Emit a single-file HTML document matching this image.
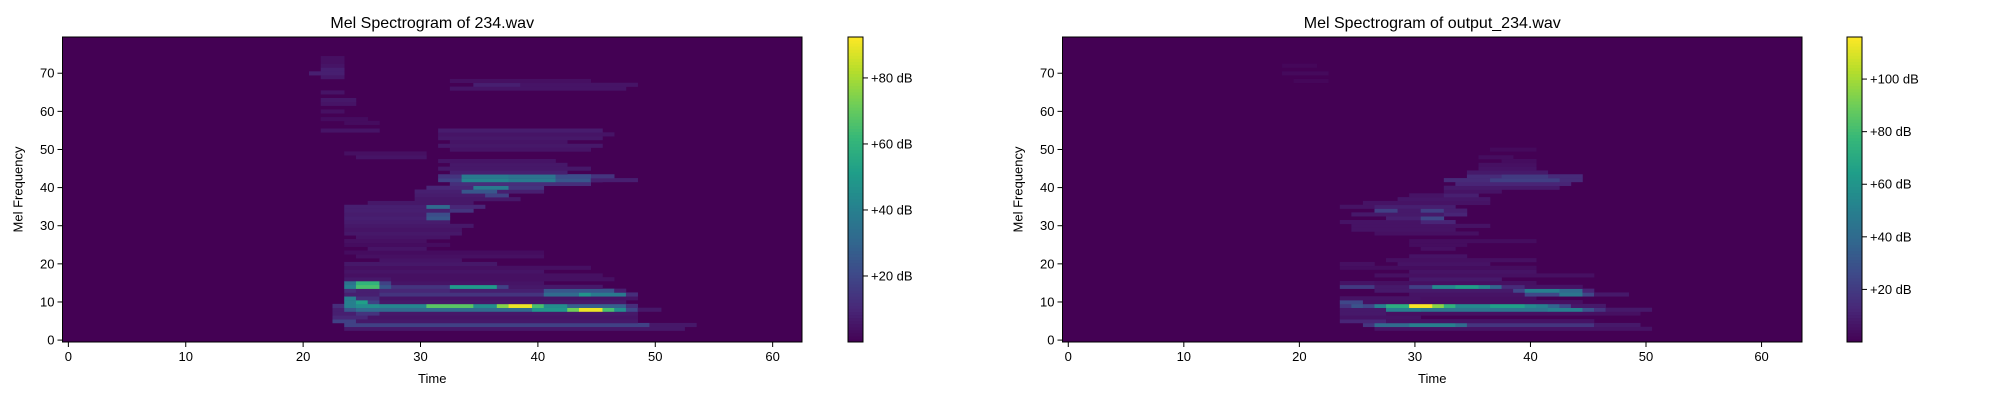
<!DOCTYPE html>
<html><head><meta charset="utf-8"><style>
html,body{margin:0;padding:0;background:#fff;}
svg{display:block;font-family:"Liberation Sans","DejaVu Sans",sans-serif;}
</style></head><body>
<svg id="fig" width="2000" height="400" viewBox="0 0 2000 400" xmlns="http://www.w3.org/2000/svg">
<rect width="2000" height="400" fill="#fff"/>
</svg>
<script>
// ---- data: segments [melBin, startFrame, endFrame, dB] ----
const leftSegs = [
[3,24,52,6],[4,24,49,18],[4,50,53,6],[5,23,24,18],[5,25,48,6],
[6,23,25,10],[6,26,48,5],[7,23,24,8],[7,25,26,14],[7,27,48,6],
[8,23,23,8],[8,24,24,25],[8,25,39,32],[8,40,42,48],[8,43,43,72],[8,44,45,90],[8,46,46,65],[8,47,47,45],[8,48,48,20],[8,49,50,6],
[9,23,23,12],[9,24,24,40],[9,25,26,45],[9,27,30,42],[9,31,34,68],[9,35,36,45],[9,37,37,75],[9,38,39,90],[9,40,40,65],[9,41,42,45],[9,43,47,28],[9,48,48,12],
[10,24,24,40],[10,25,25,52],[10,26,26,18],[10,27,47,6],
[11,24,24,40],[11,25,26,12],[11,27,48,5],
[12,24,26,8],[12,27,40,14],[12,41,43,32],[12,44,44,48],[12,45,47,38],[12,48,48,12],
[13,24,24,12],[13,25,26,8],[13,27,32,10],[13,33,40,8],[13,41,46,25],[13,47,47,8],
[14,24,24,40],[14,25,26,65],[14,27,27,25],[14,28,32,14],[14,33,36,50],[14,37,37,18],[14,38,45,6],
[15,24,24,35],[15,25,26,60],[15,27,27,18],[15,28,40,5],
[16,24,27,6],[16,28,46,4],[17,24,45,4],[18,24,40,5],[19,24,44,4],[20,24,36,6],[21,27,33,5],[22,25,40,4],
[23,24,40,3],[24,26,30,5],[25,24,32,3],[26,24,30,4],[27,25,32,5],[28,24,33,6],[29,24,33,5],[30,24,34,6],
[31,24,32,7],[32,24,30,8],[32,31,32,25],[33,24,30,7],[33,31,32,22],[34,24,32,8],[34,33,34,14],[35,24,30,8],[35,31,32,32],[35,33,35,10],[36,26,34,6],
[37,30,38,6],[38,30,35,7],[38,36,37,18],[39,30,40,8],[39,34,36,25],[40,31,36,10],[40,35,37,38],[40,38,40,14],
[41,33,44,12],[42,32,45,18],[42,34,37,42],[42,38,41,38],[42,42,44,25],[42,45,48,8],
[43,32,46,14],[43,34,37,38],[43,38,41,35],[43,42,44,22],[44,33,42,8],[45,32,44,6],[46,33,42,6],[47,32,41,5],
[48,25,30,5],[49,24,30,4],[50,33,44,5],[51,32,45,6],[52,33,42,5],[53,32,45,6],[54,32,46,5],[55,22,26,5],[55,32,45,7],
[57,24,26,3],[58,22,25,3],[60,22,23,4],[62,22,24,5],[63,22,24,6],[65,22,23,5],
[66,33,47,5],[67,35,38,8],[67,39,48,5],[68,33,44,4],
[69,22,23,6],[70,21,23,8],[71,22,23,8],[72,22,23,5],[73,22,23,4],[74,22,23,4]
];
const rightSegs = [
[3,27,50,6],[4,26,26,18],[4,27,29,40],[4,30,33,50],[4,34,34,40],[4,35,45,18],[4,46,49,8],
[5,24,27,12],[5,28,45,6],[6,24,30,6],[7,24,27,8],[7,28,49,5],
[8,24,27,8],[8,28,30,50],[8,31,41,45],[8,42,44,50],[8,45,45,30],[8,46,46,18],[8,47,50,8],
[9,24,24,18],[9,25,25,30],[9,26,26,25],[9,27,27,50],[9,28,29,72],[9,30,31,115],[9,32,32,95],[9,33,33,75],[9,34,36,55],[9,37,39,65],[9,40,40,55],[9,41,41,50],[9,42,42,38],[9,43,43,25],[9,44,46,8],
[10,24,25,25],[10,26,44,5],[11,24,30,6],[11,31,40,5],
[12,30,39,6],[12,40,42,25],[12,43,44,45],[12,45,45,25],[12,46,48,8],
[13,27,38,8],[13,39,39,25],[13,40,42,50],[13,43,44,40],[13,45,45,12],
[14,24,26,20],[14,27,29,8],[14,30,31,22],[14,32,33,55],[14,34,35,65],[14,36,36,55],[14,37,37,38],[14,38,39,14],[14,40,44,6],
[15,24,26,6],[15,27,40,5],[16,30,37,8],[17,27,45,5],[18,30,40,6],[19,24,40,4],[20,24,26,5],[20,29,36,6],[21,28,40,5],[22,30,34,6],
[24,31,33,5],[25,30,34,4],[26,30,40,4],[28,27,35,5],[29,25,33,6],[30,25,36,6],
[31,24,30,6],[31,31,33,12],[32,28,30,10],[32,31,32,25],[33,25,32,8],[33,33,34,12],[34,27,28,22],[34,29,30,8],[34,31,32,22],[34,33,34,10],[35,24,26,6],[35,27,33,10],[36,26,36,6],[37,29,36,7],[38,30,33,6],[38,33,35,10],
[39,33,37,6],[40,33,42,8],[41,34,43,12],[42,33,44,14],[42,37,42,22],[43,35,44,14],[43,38,41,20],[44,35,41,8],[45,36,40,6],[46,36,40,5],[47,38,40,4],[48,36,38,4],[50,37,40,3],
[68,20,22,2],[70,19,22,3],[72,19,21,2]
];
const xTicks = [0,10,20,30,40,50,60];
const yTicks = [0,10,20,30,40,50,60,70];
const leftCbTicks = [20,40,60,80];
const rightCbTicks = [20,40,60,80,100];
const leftFrames = 63, rightFrames = 64, melBins = 80;
const leftMax = 92.4, rightMax = 116;

const NS = "http://www.w3.org/2000/svg";
const fig = document.getElementById('fig');
const vir = ["#440154","#482878","#3e4989","#31688e","#26828e","#1f9e89","#35b779","#6ece58","#b5de2b","#fde725"];
function hex(h){return [parseInt(h.substr(1,2),16),parseInt(h.substr(3,2),16),parseInt(h.substr(5,2),16)];}
function viridis(t){t=Math.max(0,Math.min(1,t));const p=t*(vir.length-1);const i=Math.min(vir.length-2,Math.floor(p));const f=p-i;const a=hex(vir[i]),b=hex(vir[i+1]);
return "rgb("+a.map((v,k)=>Math.round(v+(b[k]-v)*f)).join(",")+")";}
function mk(tag,attrs,parent){const e=document.createElementNS(NS,tag);for(const k in attrs)e.setAttribute(k,attrs[k]);(parent||fig).appendChild(e);return e;}

function panel(cfg){
  const g=mk('g',{});
  
  
  const {x0,x1,y0,y1,frames,vmax,segs}=cfg;
  const sx=t=>x0+(t+0.5)/frames*(x1-x0);
  const sy=m=>y1-(m+0.5)/melBins*(y1-y0);
  const bg=mk('rect',{x:x0,y:y0,width:x1-x0,height:y1-y0,fill:viridis(0)},g);
  
  
  const cw=(x1-x0)/frames, ch=(y1-y0)/melBins;
  segs.forEach(s=>{
    const r=mk('rect',{x:sx(s[1]-0.5),y:sy(s[0]+0.5),width:(s[2]-s[1]+1)*cw+0.3,height:ch+0.3,fill:viridis(s[3]/vmax)},g);
    
    
  });
  const fr=mk('rect',{x:x0,y:y0,width:x1-x0,height:y1-y0,fill:'none',stroke:'#000','stroke-width':1},g);
  
  
  xTicks.forEach(v=>{
    const x=x0+(v+0.5)/frames*(x1-x0);
    mk('line',{x1:x,x2:x,y1:y1,y2:y1+5,stroke:'#000'},g);
    const t=mk('text',{x:x,y:y1+19,'font-size':13,'text-anchor':'middle'},g);t.textContent=v;
    
    
  });
  yTicks.forEach(v=>{
    const y=sy(v);
    mk('line',{x1:x0,x2:x0-5,y1:y,y2:y,stroke:'#000'},g);
    const t=mk('text',{x:x0-8,y:y+4.5,'font-size':13,'text-anchor':'end'},g);t.textContent=v;
    
    
  });
  const tt=mk('text',{x:(x0+x1)/2,y:28,'font-size':16,'text-anchor':'middle'},g);tt.textContent=cfg.title;
  
  
  const xl=mk('text',{x:(x0+x1)/2,y:383,'font-size':13,'text-anchor':'middle'},g);xl.textContent='Time';
  
  
  const yl=mk('text',{x:0,y:0,'font-size':13,'text-anchor':'middle',transform:`translate(${x0-40},${(y0+y1)/2}) rotate(-90)`},g);yl.textContent='Mel Frequency';
  
  
  const cb=mk('g',{},g);
  
  
  const n=100,cx0=cfg.cbx,cwid=15;
  for(let i=0;i<n;i++){
    const yy=y1-(i+1)/n*(y1-y0);
    mk('rect',{x:cx0,y:yy,width:cwid,height:(y1-y0)/n+0.5,fill:viridis((i+0.5)/n)},cb);
  }
  mk('rect',{x:cx0,y:y0,width:cwid,height:y1-y0,fill:'none',stroke:'#000'},cb);
  cfg.cbTicks.forEach(v=>{
    const y=y1-v/vmax*(y1-y0);
    mk('line',{x1:cx0+cwid,x2:cx0+cwid+5,y1:y,y2:y,stroke:'#000'},cb);
    const t=mk('text',{x:cx0+cwid+8,y:y+4.5,'font-size':13},cb);t.textContent='+'+v+' dB';
    
    
  });
}
panel({name:'left-spectrogram',x0:62.5,x1:802,y0:37,y1:342,frames:leftFrames,vmax:leftMax,segs:leftSegs,title:'Mel Spectrogram of 234.wav',cbx:848,cbTicks:leftCbTicks});
panel({name:'right-spectrogram',x0:1062.5,x1:1802,y0:37,y1:342,frames:rightFrames,vmax:rightMax,segs:rightSegs,title:'Mel Spectrogram of output_234.wav',cbx:1847,cbTicks:rightCbTicks});
</script>
</body></html>
